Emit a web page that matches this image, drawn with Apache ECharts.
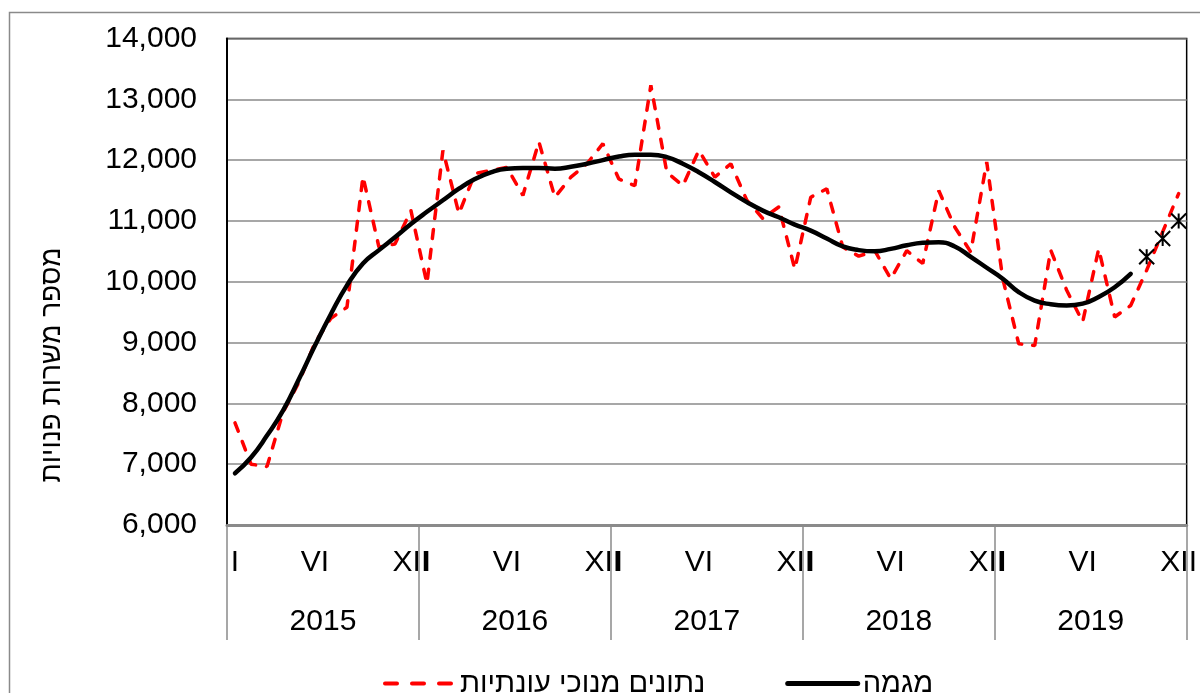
<!DOCTYPE html>
<html>
<head>
<meta charset="utf-8">
<script src="https://cdn.jsdelivr.net/npm/echarts@6/dist/echarts.min.js"></script>
<style>
html,body{margin:0;padding:0;background:#fff;}
#chart{width:1200px;height:693px;}
</style>
</head>
<body>
<div id="chart"></div>
<script>
var years = ['2015', '2016', '2017', '2018', '2019'];
var monthMarks = ['I', '', '', '', '', 'VI', '', '', '', '', '', 'XII'];
var seasonAdj = [
  7680, 7000, 6960, 7850, 8350, 9000, 9400, 9580, 11730, 10570, 10620, 11170,
  9970, 12160, 11120, 11780, 11830, 11880, 11420, 12300, 11390, 11720, 11940, 12270,
  11690, 11580, 13230, 11800, 11580, 12160, 11720, 11940, 11340, 11040, 11230, 10210,
  11390, 11530, 10570, 10420, 10510, 10050, 10510, 10300, 11500, 10900, 10490, 11970,
  10050, 8980, 8950, 10520, 9860, 9340, 10540, 9420, 9610, 10190, 10820, 11450
];
var trend = [
  6850, 7110, 7470, 7880, 8400, 8950, 9470, 9940, 10300, 10520, 10730, 10950,
  11150, 11340, 11530, 11690, 11800, 11860, 11870, 11870, 11860, 11890, 11940, 12000,
  12060, 12090, 12090, 12050, 11940, 11800, 11640, 11470, 11310, 11170, 11060, 10940,
  10840, 10710, 10580, 10520, 10500, 10540, 10600, 10640, 10650, 10580, 10410, 10230,
  10050, 9830, 9690, 9630, 9610, 9640, 9750, 9910, 10130, null, null, null
];
var trendForecast = [
  null, null, null, null, null, null, null, null, null, null, null, null,
  null, null, null, null, null, null, null, null, null, null, null, null,
  null, null, null, null, null, null, null, null, null, null, null, null,
  null, null, null, null, null, null, null, null, null, null, null, null,
  null, null, null, null, null, null, null, null, null, 10410, 10710, 11000
];
var seriesNames = ['נתונים מנוכי עונתיות', 'מגמה'];
var yTitle = 'מספר משרות פנויות';

var months = [];
for (var y = 0; y < years.length; y++) {
  for (var m = 0; m < 12; m++) months.push(monthMarks[m]);
}

var FONT = '"Liberation Sans", Arial, sans-serif';
var redLine = {color: '#ff0000', width: 3.5, type: [9, 11], cap: 'round'};
var redLegendLine = {color: '#ff0000', width: 4, type: [12, 15], cap: 'round'};
var blackLine = {color: '#000', width: 4.5, cap: 'round'};
var chart = echarts.init(document.getElementById('chart'), null, {renderer: 'canvas'});
chart.setOption({
  animation: false,
  backgroundColor: '#fff',
  textStyle: {fontFamily: FONT},
  grid: {
    left: 227, right: 13, top: 38.5, bottom: 168,
    show: true, borderColor: '#000', borderWidth: 1.5, backgroundColor: 'transparent'
  },
  graphic: [
    {
      type: 'rect', z: -10,
      shape: {x: 9.5, y: 12.5, width: 1300, height: 800},
      style: {fill: 'none', stroke: '#8a8a8a', lineWidth: 1.5}
    },
    {
      type: 'text', x: 52, y: 365, rotation: Math.PI / 2,
      style: {
        text: yTitle, fontSize: 28, fontFamily: FONT, fill: '#000',
        align: 'center', verticalAlign: 'middle'
      }
    }
  ],
  legend: {
    left: 378, top: 664,
    itemWidth: 70, itemHeight: 14, itemGap: 80,
    itemStyle: {opacity: 0},
    data: [
      {name: seriesNames[0], lineStyle: redLegendLine, itemStyle: {opacity: 0}},
      {name: seriesNames[1], lineStyle: {color: '#000', width: 5, cap: 'round'}, itemStyle: {opacity: 0}}
    ],
    textStyle: {fontSize: 29, color: '#000', fontFamily: FONT}
  },
  xAxis: [
    {
      type: 'category', data: months, position: 'bottom', boundaryGap: true,
      axisLine: {show: true, lineStyle: {color: '#8a8a8a', width: 3}},
      axisTick: {show: false},
      axisLabel: {interval: 0, margin: 23, fontSize: 30, color: '#000', fontFamily: FONT},
      splitLine: {show: false}
    },
    {
      type: 'category', data: years, position: 'bottom', boundaryGap: true,
      axisLine: {show: false},
      axisTick: {show: true, length: 115, lineStyle: {color: '#8a8a8a', width: 1.5}},
      axisLabel: {margin: 82, fontSize: 30, color: '#000', fontFamily: FONT},
      splitLine: {show: false}
    }
  ],
  yAxis: {
    type: 'value', min: 6000, max: 14000, interval: 1000,
    axisLine: {show: true, lineStyle: {color: '#000', width: 2}},
    axisTick: {show: false},
    axisLabel: {
      margin: 30, fontSize: 30, color: '#000', fontFamily: FONT,
      formatter: function (v) { return v.toLocaleString('en-US'); }
    },
    splitLine: {show: true, lineStyle: {color: '#8a8a8a', width: 1.5}}
  },
  series: [
    {
      name: seriesNames[0], type: 'line', data: seasonAdj,
      symbol: 'none', smooth: false,
      lineStyle: redLine,
      itemStyle: {color: '#ff0000'},
      z: 2
    },
    {
      name: seriesNames[1], type: 'line', data: trend,
      symbol: 'none', smooth: 0.5, connectNulls: false,
      lineStyle: blackLine,
      itemStyle: {color: '#000'},
      z: 3
    },
    {
      name: 'forecast', type: 'line', data: trendForecast,
      symbol: 'path://M0,0L10,10M10,0L0,10M5,0L5,10', symbolSize: 15,
      showSymbol: true,
      lineStyle: {width: 0, opacity: 0},
      itemStyle: {color: 'none', borderColor: '#000', borderWidth: 2},
      z: 4
    }
  ]
});
</script>
</body>
</html>
